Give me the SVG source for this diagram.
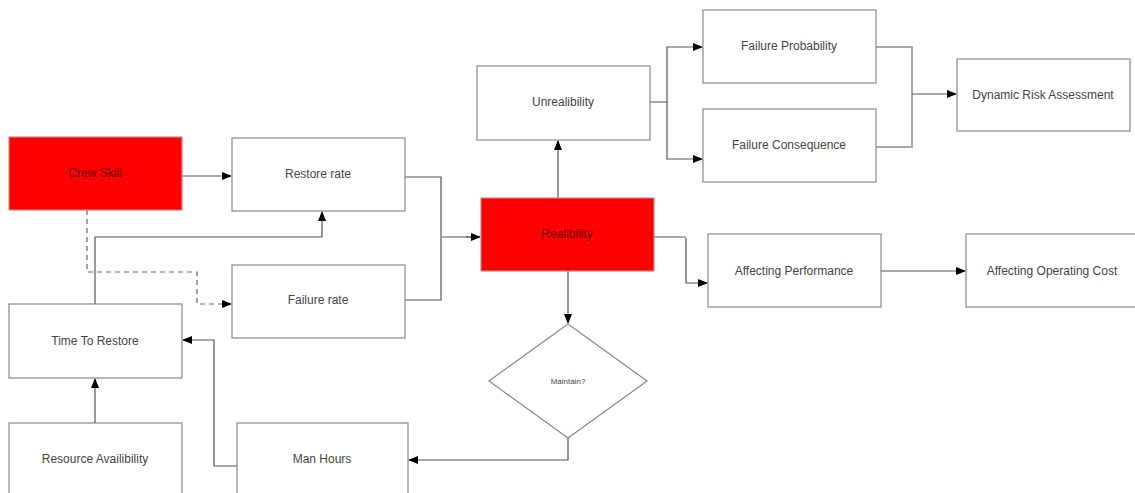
<svg xmlns="http://www.w3.org/2000/svg" width="1135" height="493" viewBox="0 0 1135 493">
<style>
.box{fill:#fff;stroke:#888;stroke-width:1.2}
.red{fill:#f00;stroke:#c88;stroke-width:1.2}
.t{font-family:"Liberation Sans",Arial,sans-serif;font-size:12px;fill:#444;text-anchor:middle;dominant-baseline:central}
.tr{fill:#600}
.c{fill:none;stroke:#555;stroke-width:1.2}
.cl{fill:none;stroke:#aaa;stroke-width:2}
.d{fill:none;stroke:#666;stroke-width:1.2;stroke-dasharray:5 4}
</style>
<defs>
<marker id="a" markerWidth="10" markerHeight="8" refX="9" refY="4" orient="auto" markerUnits="userSpaceOnUse">
<path d="M0,0 L10,4 L0,8 Z" fill="#000"/>
</marker>
</defs>
<rect width="1135" height="493" fill="#fff"/>
<g id="connectors">
<path class="c" d="M182,176 H231" marker-end="url(#a)"/>
<path class="d" d="M87,210 V272 H197 V304 H231" marker-end="url(#a)"/>
<path class="c" d="M95,304 V237 H322 V212" marker-end="url(#a)"/>
<path class="c" d="M405,177 H441 V300 H405"/>
<path class="cl" d="M441,237 H470"/>
<path class="c" d="M466,237 H480" marker-end="url(#a)"/>
<path class="c" d="M558,198 V141" marker-end="url(#a)"/>
<path class="c" d="M650,102 H667 V47 H702" marker-end="url(#a)"/>
<path class="c" d="M667,102 V159 H702" marker-end="url(#a)"/>
<path class="cl" d="M876,47 H912 V147 H876"/>
<path class="c" d="M912,94 H956" marker-end="url(#a)"/>
<path class="cl" d="M654,237 H686"/>
<path class="c" d="M686,238 V283 H707" marker-end="url(#a)"/>
<path class="c" d="M881,271 H965" marker-end="url(#a)"/>
<path class="c" d="M568,271 V323" marker-end="url(#a)"/>
<path class="c" d="M568,438 V460 H409" marker-end="url(#a)"/>
<path class="c" d="M237,466 H214 V340 H183" marker-end="url(#a)"/>
<path class="c" d="M95,423 V379" marker-end="url(#a)"/>
</g>
<g id="crew-skill"><rect class="red" x="9" y="137" width="173" height="73"/><text class="t tr" x="95" y="173">Crew Skill</text></g>
<g id="restore-rate"><rect class="box" x="232" y="138" width="173" height="73"/><text class="t" x="318" y="174">Restore rate</text></g>
<g id="failure-rate"><rect class="box" x="232" y="265" width="173" height="73"/><text class="t" x="318" y="300">Failure rate</text></g>
<g id="time-to-restore"><rect class="box" x="9" y="304" width="173" height="74"/><text class="t" x="95" y="341">Time To Restore</text></g>
<g id="resource-availibility"><rect class="box" x="9" y="423" width="173" height="74"/><text class="t" x="95" y="459">Resource Availibility</text></g>
<g id="man-hours"><rect class="box" x="237" y="423" width="171" height="74"/><text class="t" x="322" y="459">Man Hours</text></g>
<g id="realibility"><rect class="red" x="481" y="198" width="173" height="73"/><text class="t tr" x="567" y="234">Realibility</text></g>
<g id="unrealibility"><rect class="box" x="477" y="66" width="173" height="74"/><text class="t" x="563" y="102">Unrealibility</text></g>
<g id="failure-probability"><rect class="box" x="703" y="10" width="173" height="73"/><text class="t" x="789" y="46">Failure Probability</text></g>
<g id="failure-consequence"><rect class="box" x="703" y="109" width="173" height="73"/><text class="t" x="789" y="145">Failure Consequence</text></g>
<g id="dynamic-risk-assessment"><rect class="box" x="957" y="59" width="173" height="72"/><text class="t" x="1043" y="95">Dynamic Risk Assessment</text></g>
<g id="affecting-performance"><rect class="box" x="708" y="234" width="173" height="73"/><text class="t" x="794" y="271">Affecting Performance</text></g>
<g id="affecting-operating-cost"><rect class="box" x="966" y="234" width="173" height="73"/><text class="t" x="1052" y="271">Affecting Operating Cost</text></g>
<g id="maintain"><path class="box" d="M568,324 L647,381 L568,438 L489,381 Z"/><text class="t" x="568" y="381" style="font-size:8px">Maintain?</text></g>
</svg>
